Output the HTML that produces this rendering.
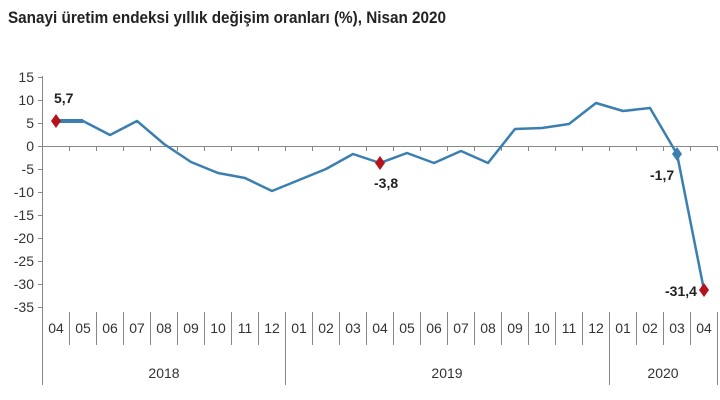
<!DOCTYPE html>
<html><head><meta charset="utf-8"><style>body{margin:0;background:#fff}svg{display:block}</style></head><body>
<svg width="720" height="400" viewBox="0 0 720 400" xmlns="http://www.w3.org/2000/svg" font-family="Liberation Sans, sans-serif">
<rect width="720" height="400" fill="#fff"/>
<text x="8" y="23" font-size="17" font-weight="bold" fill="#222" textLength="438" lengthAdjust="spacingAndGlyphs">Sanayi üretim endeksi  yıllık değişim oranları (%), Nisan 2020</text>
<g stroke="#888" stroke-width="1" fill="none">
<line x1="42.5" y1="76" x2="42.5" y2="385"/>
<line x1="42" y1="146.5" x2="717" y2="146.5"/>
<path d="M38 77.5h5M38 100.5h5M38 123.5h5M38 146.5h5M38 169.5h5M38 192.5h5M38 215.5h5M38 238.5h5M38 261.5h5M38 284.5h5M38 307.5h5"/>
<path d="M69.5 146v5M96.5 146v5M123.5 146v5M150.5 146v5M177.5 146v5M204.5 146v5M231.5 146v5M258.5 146v5M285.5 146v5M312.5 146v5M339.5 146v5M366.5 146v5M393.5 146v5M420.5 146v5M447.5 146v5M474.5 146v5M501.5 146v5M528.5 146v5M555.5 146v5M582.5 146v5M609.5 146v5M636.5 146v5M663.5 146v5M690.5 146v5M717.5 146v5"/>
<path d="M69.5 312v33M96.5 312v33M123.5 312v33M150.5 312v33M177.5 312v33M204.5 312v33M231.5 312v33M258.5 312v33M312.5 312v33M339.5 312v33M366.5 312v33M393.5 312v33M420.5 312v33M447.5 312v33M474.5 312v33M501.5 312v33M528.5 312v33M555.5 312v33M582.5 312v33M636.5 312v33M663.5 312v33M690.5 312v33"/>
<path d="M285.5 312v73M609.5 312v73M717.5 312v73"/>
</g>
<g font-size="14" fill="#333" text-anchor="end">
<text x="34" y="82">15</text><text x="34" y="105">10</text><text x="34" y="128">5</text><text x="34" y="151">0</text><text x="34" y="174">-5</text><text x="34" y="197">-10</text><text x="34" y="220">-15</text><text x="34" y="243">-20</text><text x="34" y="266">-25</text><text x="34" y="289">-30</text><text x="34" y="312">-35</text>
</g>
<g font-size="14" fill="#333" text-anchor="middle">
<text x="56" y="333">04</text><text x="83" y="333">05</text><text x="110" y="333">06</text><text x="137" y="333">07</text><text x="164" y="333">08</text><text x="191" y="333">09</text><text x="218" y="333">10</text><text x="245" y="333">11</text><text x="272" y="333">12</text><text x="299" y="333">01</text><text x="326" y="333">02</text><text x="353" y="333">03</text><text x="380" y="333">04</text><text x="407" y="333">05</text><text x="434" y="333">06</text><text x="461" y="333">07</text><text x="488" y="333">08</text><text x="515" y="333">09</text><text x="542" y="333">10</text><text x="569" y="333">11</text><text x="596" y="333">12</text><text x="623" y="333">01</text><text x="650" y="333">02</text><text x="677" y="333">03</text><text x="704" y="333">04</text>
<text x="164" y="378">2018</text><text x="447" y="378">2019</text><text x="663" y="378">2020</text>
</g>
<polyline fill="none" stroke="#3a7fb0" stroke-width="2.5" stroke-linejoin="round" points="56,121 83,121 110,135 137,121 164,144 191,162 218,173 245,178 272,191 299,180 326,169 353,154 380,163 407,153 434,163 461,151 488,163 515,129 542,128 569,124 596,103 623,111 650,108 677,154 704,290"/>
<line x1="56" y1="121" x2="83" y2="121" stroke="#3a7fb0" stroke-width="4"/>
<path d="M56 114l5 7-5 7-5-7z" fill="#b5121b"/>
<path d="M380 156l5 7-5 7-5-7z" fill="#b5121b"/>
<path d="M677 147l5 7-5 7-5-7z" fill="#3a7fb0"/>
<path d="M704 283l5 7-5 7-5-7z" fill="#b5121b"/>
<g font-size="14" font-weight="bold" fill="#222">
<text x="54" y="103">5,7</text>
<text x="374" y="188">-3,8</text>
<text x="650" y="180">-1,7</text>
<text x="665" y="296">-31,4</text>
</g>
</svg>
</body></html>
